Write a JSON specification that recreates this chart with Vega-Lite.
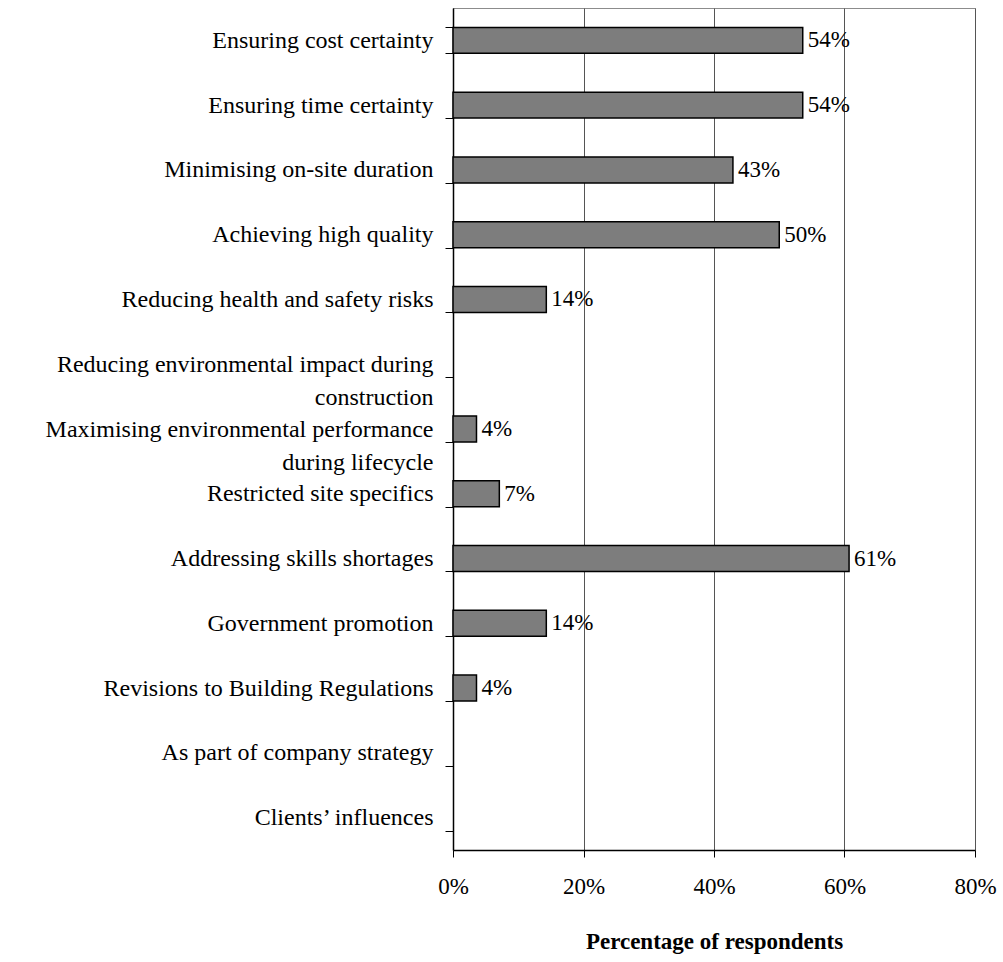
{
  "$schema": "https://vega.github.io/schema/vega-lite/v6.json",
  "width": 522,
  "height": 842,
  "autosize": "none",
  "padding": {"left": 453, "top": 8, "right": 28, "bottom": 112},
  "background": "white",
  "config": {
    "font": "Liberation Serif",
    "view": {"stroke": "#8c8c8c", "strokeWidth": 1}
  },
  "data": {
    "values": [
      {"factor": "Ensuring cost certainty", "pct": 0.536, "label": "54%"},
      {"factor": "Ensuring time certainty", "pct": 0.536, "label": "54%"},
      {"factor": "Minimising on-site duration", "pct": 0.429, "label": "43%"},
      {"factor": "Achieving high quality", "pct": 0.5, "label": "50%"},
      {"factor": "Reducing health and safety risks", "pct": 0.143, "label": "14%"},
      {"factor": "Reducing environmental impact during construction", "pct": 0, "label": ""},
      {"factor": "Maximising environmental performance during lifecycle", "pct": 0.036, "label": "4%"},
      {"factor": "Restricted site specifics", "pct": 0.071, "label": "7%"},
      {"factor": "Addressing skills shortages", "pct": 0.607, "label": "61%"},
      {"factor": "Government promotion", "pct": 0.143, "label": "14%"},
      {"factor": "Revisions to Building Regulations", "pct": 0.036, "label": "4%"},
      {"factor": "As part of company strategy", "pct": 0, "label": ""},
      {"factor": "Clients’ influences", "pct": 0, "label": ""}
    ]
  },
  "layer": [
    {
      "mark": {"type": "bar", "fill": "#7d7d7d", "stroke": "black", "strokeWidth": 1.5},
      "transform": [{"filter": "datum.pct > 0"}],
      "encoding": {
        "y": {
          "field": "factor",
          "type": "nominal",
          "sort": null,
          "scale": {
            "domain": [
              "Ensuring cost certainty",
              "Ensuring time certainty",
              "Minimising on-site duration",
              "Achieving high quality",
              "Reducing health and safety risks",
              "Reducing environmental impact during construction",
              "Maximising environmental performance during lifecycle",
              "Restricted site specifics",
              "Addressing skills shortages",
              "Government promotion",
              "Revisions to Building Regulations",
              "As part of company strategy",
              "Clients’ influences"
            ],
            "paddingInner": 0.6,
            "paddingOuter": 0.3
          },
          "axis": {
            "title": null,
            "domainColor": "black",
            "domainWidth": 1.5,
            "tickColor": "black",
            "tickSize": 8,
            "tickBand": "extent",
            "labelFont": "Liberation Serif",
            "labelFontSize": 24,
            "labelColor": "black",
            "labelPadding": 12,
            "labelLimit": 0,
            "labelLineHeight": 33,
            "encode": {
              "labels": {
                "update": {
                  "dy": {"signal": "datum.value == 'Reducing environmental impact during construction' || datum.value == 'Maximising environmental performance during lifecycle' ? -16 : 0"}
                }
              }
            },
            "labelExpr": "datum.label == 'Reducing environmental impact during construction' ? ['Reducing environmental impact during', 'construction'] : datum.label == 'Maximising environmental performance during lifecycle' ? ['Maximising environmental performance', 'during lifecycle'] : datum.label"
          }
        },
        "x": {
          "field": "pct",
          "type": "quantitative",
          "scale": {"domain": [0, 0.8]},
          "axis": {
            "values": [0, 0.2, 0.4, 0.6, 0.8],
            "format": ".0%",
            "title": "Percentage of respondents",
            "titleFont": "Liberation Serif",
            "titleFontSize": 23,
            "titleFontWeight": "bold",
            "titleColor": "black",
            "titlePadding": 32,
            "grid": true,
            "gridColor": "#555555",
            "gridWidth": 1,
            "domainColor": "black",
            "domainWidth": 1.5,
            "tickColor": "black",
            "tickSize": 7,
            "labelFont": "Liberation Serif",
            "labelFontSize": 23,
            "labelColor": "black",
            "labelPadding": 18,
            "labelFlush": false
          }
        }
      }
    },
    {
      "mark": {"type": "text", "align": "left", "baseline": "middle", "dx": 5, "font": "Liberation Serif", "fontSize": 23, "color": "black"},
      "transform": [{"filter": "datum.pct > 0"}],
      "encoding": {
        "y": {"field": "factor", "type": "nominal", "sort": null},
        "x": {"field": "pct", "type": "quantitative"},
        "text": {"field": "label"}
      }
    }
  ]
}
